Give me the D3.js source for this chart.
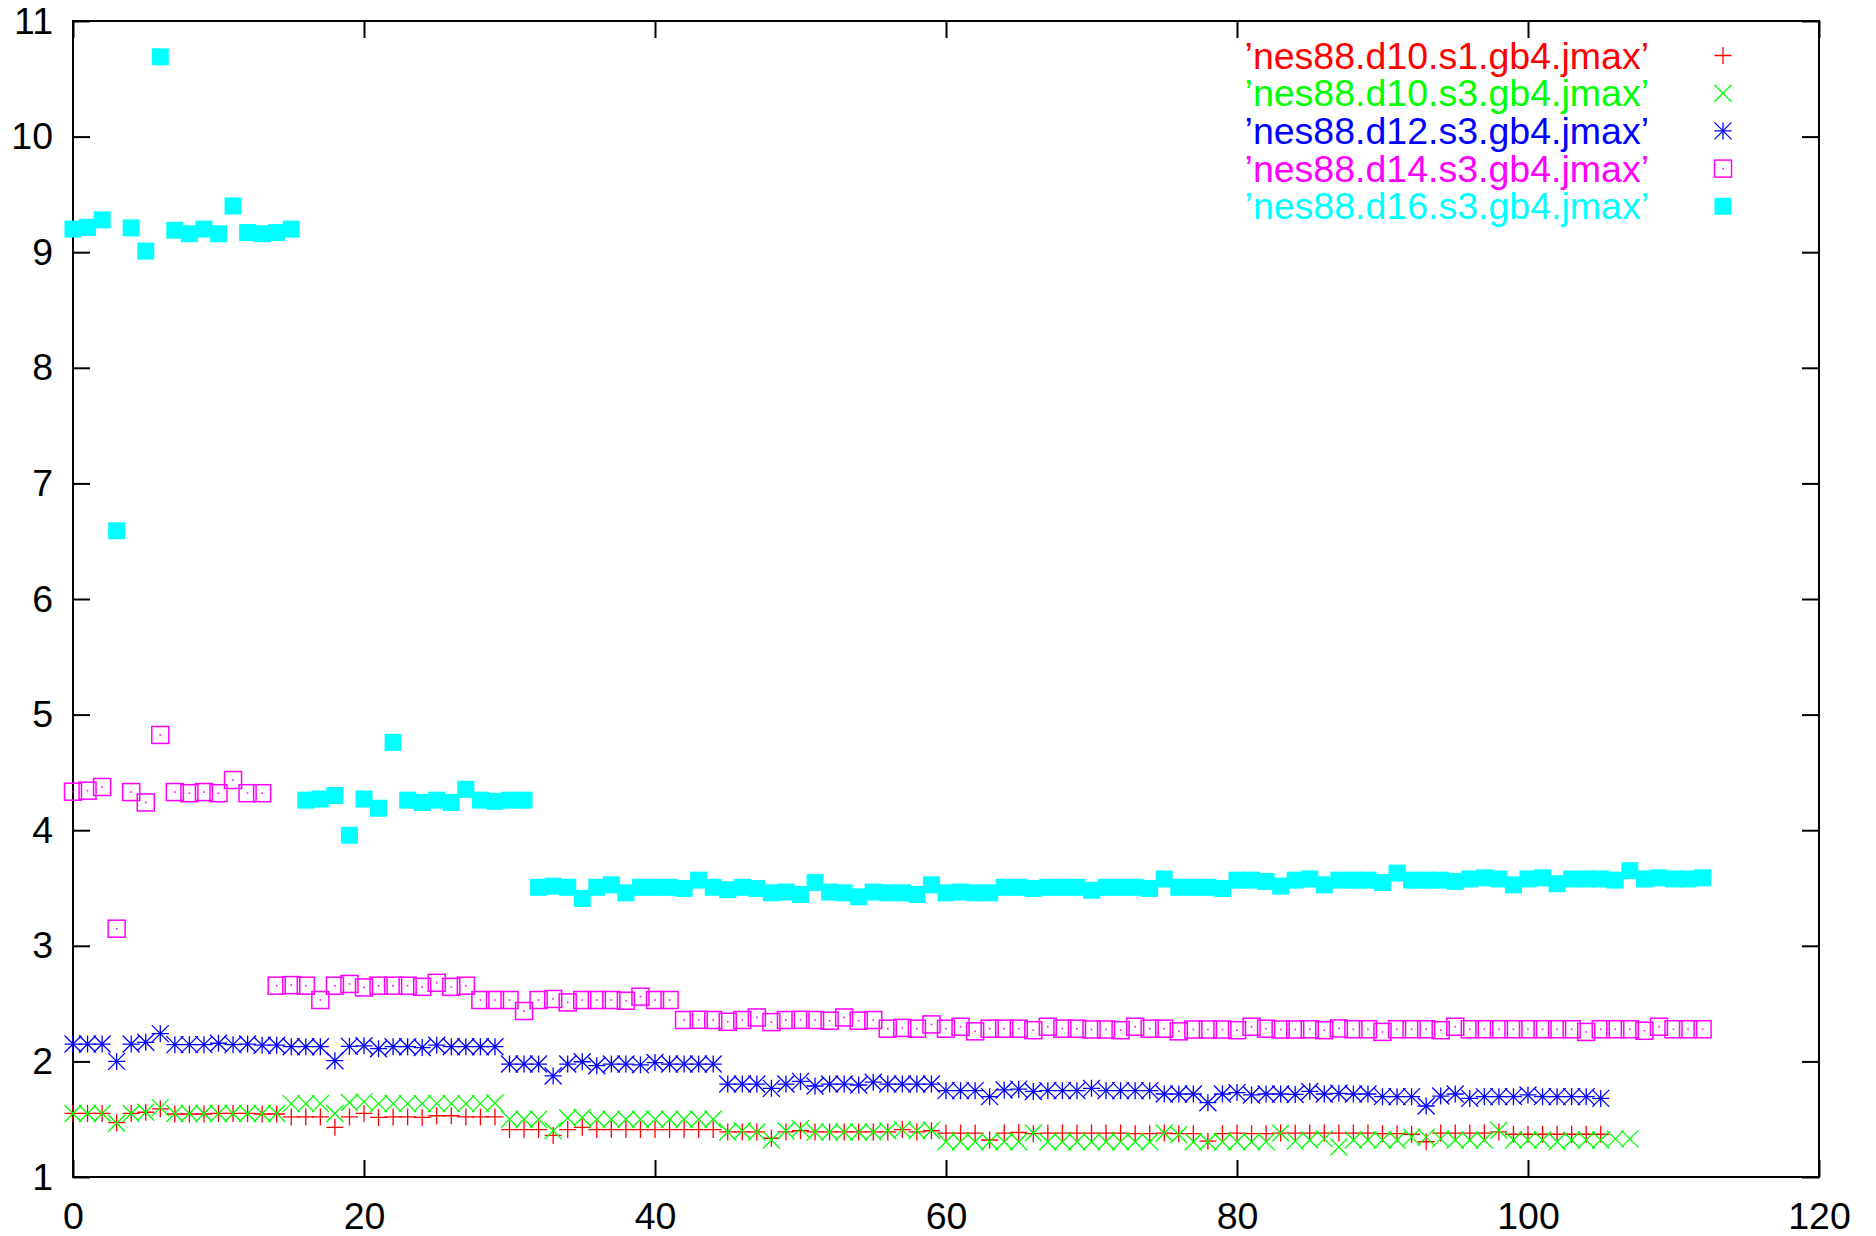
<!DOCTYPE html>
<html lang="en">
<head>
<meta charset="UTF-8">
<title>jmax</title>
<style>
  body { margin: 0; background: #fff; }
  text { font-family: "Liberation Sans", Arial, sans-serif; }
</style>
</head>
<body>
<svg id="chart" width="1876" height="1236"></svg>
<script src="https://cdn.jsdelivr.net/npm/d3@7/dist/d3.min.js"></script>
<script>

// values, index = x position
let redVals = [1.55,1.55,1.55,1.47,1.55,1.56,1.59,1.545,1.545,1.545,1.55,1.55,1.55,1.545,1.545,
  1.52,1.52,1.52,1.43,1.52,1.55,1.515,1.52,1.52,1.515,1.53,1.53,1.52,1.52,1.52,
  1.41,1.41,1.41,1.36,1.41,1.43,1.41,1.41,1.41,1.41,1.41,1.41,1.41,1.41,1.41,
  1.39,1.39,1.39,1.335,1.39,1.40,1.39,1.39,1.39,1.39,1.39,1.39,1.41,1.39,1.40,
  1.38,1.38,1.38,1.32,1.38,1.385,1.375,1.38,1.38,1.38,1.38,1.38,1.38,1.375,1.375,1.38,1.375,1.375,
  1.31,1.375,1.38,1.375,1.375,1.38,1.38,1.38,1.38,1.38,1.38,1.38,1.375,1.375,1.37,
  1.305,1.38,1.38,1.38,1.38,1.39,1.37,1.37,1.37,1.37,1.37,1.37,1.37]

let greenVals = [1.55,1.55,1.55,1.465,1.55,1.56,1.60,1.55,1.55,1.55,1.55,1.55,1.55,1.55,1.55,
  1.635,1.635,1.635,1.55,1.645,1.65,1.635,1.635,1.635,1.635,1.635,1.635,1.635,1.635,1.64,
  1.50,1.50,1.50,1.40,1.51,1.515,1.50,1.50,1.50,1.50,1.50,1.50,1.50,1.50,1.50,
  1.39,1.40,1.39,1.32,1.40,1.42,1.39,1.39,1.39,1.39,1.39,1.40,1.41,1.40,1.405,
  1.305,1.305,1.305,1.305,1.305,1.305,1.38,1.305,1.305,1.305,1.305,1.305,1.305,1.305,1.305,
  1.38,1.365,1.305,1.305,1.305,1.305,1.305,1.305,1.38,1.31,1.32,1.33,1.26,1.32,1.32,
  1.32,1.32,1.345,1.345,1.33,1.32,1.32,1.32,1.405,1.32,1.32,1.32,1.305,1.32,1.32,
  1.32,1.33,1.33]

let blueVals = [2.15,2.15,2.15,2.00,2.15,2.165,2.24,2.145,2.145,2.145,2.157,2.145,2.15,2.14,2.14,
  2.127,2.127,2.127,2.006,2.13,2.135,2.11,2.127,2.127,2.12,2.14,2.127,2.127,2.127,2.127,
  1.977,1.977,1.977,1.874,1.977,1.997,1.963,1.977,1.977,1.97,1.99,1.977,1.977,1.977,1.977,
  1.804,1.804,1.804,1.767,1.804,1.827,1.787,1.804,1.804,1.796,1.82,1.804,1.804,1.804,1.804,
  1.747,1.747,1.747,1.695,1.753,1.76,1.74,1.747,1.747,1.747,1.767,1.747,1.747,1.747,1.747,
  1.718,1.718,1.718,1.643,1.718,1.73,1.71,1.718,1.718,1.714,1.74,1.718,1.724,1.718,1.718,
  1.695,1.695,1.695,1.614,1.70,1.718,1.68,1.695,1.695,1.695,1.71,1.695,1.695,1.695,1.695,
  1.68]

let magentaVals = [4.333,4.342,4.374,3.148,4.33,4.24,4.824,4.33,4.32,4.33,4.32,4.434,4.32,4.32,
  2.655,2.66,2.655,2.531,2.655,2.67,2.64,2.655,2.655,2.655,2.645,2.68,2.645,2.655,
  2.531,2.531,2.531,2.436,2.531,2.54,2.51,2.531,2.531,2.531,2.525,2.56,2.531,2.531,
  2.358,2.36,2.358,2.343,2.358,2.38,2.34,2.358,2.36,2.358,2.352,2.38,2.352,2.358,
  2.283,2.29,2.283,2.32,2.283,2.30,2.26,2.283,2.283,2.283,2.27,2.30,2.283,2.283,2.276,
  2.276,2.27,2.30,2.283,2.283,2.26,2.276,2.276,2.276,2.27,2.30,2.283,2.276,2.276,
  2.278,2.27,2.285,2.278,2.278,2.255,2.278,2.278,2.278,2.27,2.30,2.278,2.278,2.278,
  2.278,2.278,2.278,2.278,2.278,2.255,2.278,2.278,2.278,2.265,2.30,2.278,2.278,2.278]

let cyanVals = [9.2,9.215,9.28,6.59,9.21,9.01,10.69,9.19,9.16,9.2,9.16,9.40,9.17,9.16,9.17,9.2,
  4.26,4.27,4.30,3.956,4.27,4.19,4.76,4.26,4.24,4.26,4.24,4.354,4.26,4.25,4.26,4.26,
  3.506,3.516,3.506,3.41,3.506,3.527,3.458,3.506,3.506,3.506,3.496,3.568,3.506,3.485,3.506,
  3.496,3.458,3.465,3.444,3.547,3.465,3.458,3.424,3.465,3.458,3.458,3.444,3.527,3.458,3.465,
  3.458,3.458,3.506,3.506,3.496,3.506,3.506,3.506,3.48,3.506,3.506,3.506,3.496,3.578,
  3.506,3.506,3.506,3.496,3.568,3.568,3.557,3.516,3.568,3.578,3.527,3.568,3.568,3.568,3.547,
  3.629,3.568,3.568,3.568,3.557,3.578,3.588,3.578,3.527,3.578,3.588,3.537,3.578,3.578,3.578,
  3.568,3.65,3.578,3.588,3.578,3.578,3.588]

let seriesNames = ["\u2019nes88.d10.s1.gb4.jmax\u2019", "\u2019nes88.d10.s3.gb4.jmax\u2019",
  "\u2019nes88.d12.s3.gb4.jmax\u2019", "\u2019nes88.d14.s3.gb4.jmax\u2019", "\u2019nes88.d16.s3.gb4.jmax\u2019"]
let seriesColors = ["#ff0000", "#00ff00", "#0000ff", "#ff00ff", "#00ffff"]
let seriesMarks = ["plus", "cross", "star", "box", "fbox"]
let xTicks = [0, 20, 40, 60, 80, 100, 120]
let yTicks = [1, 2, 3, 4, 5, 6, 7, 8, 9, 10, 11]

let allVals = [redVals, greenVals, blueVals, magentaVals, cyanVals]

let plotLeft = 73, plotRight = 1819, plotTop = 21, plotBottom = 1177
let svg = d3.select("#chart")

let xScale = d3.scaleLinear().domain([0, 120]).range([plotLeft, plotRight])
let yScale = d3.scaleLinear().domain([1, 11]).range([plotBottom, plotTop])

let fontSize = 37.5
let tick = 17

// axes, ticks pointing inward
let gx = svg.append("g").attr("transform", "translate(0," + plotBottom + ")")
  .call(d3.axisBottom(xScale).tickValues(xTicks).tickSize(-tick).tickPadding(25))
let gy = svg.append("g").attr("transform", "translate(" + plotLeft + ",0)")
  .call(d3.axisLeft(yScale).tickValues(yTicks).tickSize(-tick).tickPadding(20))
let gx2 = svg.append("g").attr("transform", "translate(0," + plotTop + ")")
  .call(d3.axisTop(xScale).tickValues(xTicks).tickSize(-tick).tickFormat(""))
let gy2 = svg.append("g").attr("transform", "translate(" + plotRight + ",0)")
  .call(d3.axisRight(yScale).tickValues(yTicks).tickSize(-tick).tickFormat(""))

for (let g of [gx, gy, gx2, gy2]) {
  g.select(".domain").remove()
  g.selectAll("line").attr("stroke", "#000").attr("stroke-width", 2)
  g.selectAll("text").attr("font-size", fontSize).attr("fill", "#000")
    .style("font-family", "'Liberation Sans', Arial, sans-serif")
}

svg.append("rect")
  .attr("x", plotLeft).attr("y", plotTop)
  .attr("width", plotRight - plotLeft).attr("height", plotBottom - plotTop)
  .attr("fill", "none").attr("stroke", "#000").attr("stroke-width", 2)

let h = 8.5
function drawMark(g, kind, color) {
  if (kind == "plus" || kind == "star") {
    g.append("path").attr("d", `M${-h},0H${h}M0,${-h}V${h}`)
      .attr("stroke", color).attr("stroke-width", 1.3).attr("fill", "none")
  }
  if (kind == "cross" || kind == "star") {
    g.append("path").attr("d", `M${-h},${-h}L${h},${h}M${-h},${h}L${h},${-h}`)
      .attr("stroke", color).attr("stroke-width", 1.3).attr("fill", "none")
  }
  if (kind == "box") {
    g.append("rect").attr("x", -h).attr("y", -h).attr("width", 2 * h).attr("height", 2 * h)
      .attr("stroke", color).attr("stroke-width", 1.5).attr("fill", "none")
    g.append("rect").attr("x", -0.8).attr("y", -0.8).attr("width", 1.6).attr("height", 1.6)
      .attr("fill", color)
  }
  if (kind == "fbox") {
    g.append("rect").attr("x", -h).attr("y", -h).attr("width", 2 * h).attr("height", 2 * h)
      .attr("fill", color)
  }
}

allVals.forEach((vals, i) => {
  let layer = svg.append("g")
  layer.selectAll("g")
    .data(vals)
    .join("g")
    .attr("transform", (d, j) => "translate(" + xScale(j) + "," + yScale(d) + ")")
    .each(function () { drawMark(d3.select(this), seriesMarks[i], seriesColors[i]) })
})

// legend
let legend = svg.append("g")
seriesNames.forEach((name, i) => {
  let y = 55.5 + i * 37.7
  legend.append("text")
    .attr("x", 1649).attr("y", y).attr("dy", "0.35em")
    .attr("text-anchor", "end")
    .attr("font-size", fontSize)
    .attr("fill", seriesColors[i])
    .text(name)
  let g = legend.append("g").attr("transform", "translate(1723," + y + ")")
  drawMark(g, seriesMarks[i], seriesColors[i])
})

</script>
</body>
</html>
